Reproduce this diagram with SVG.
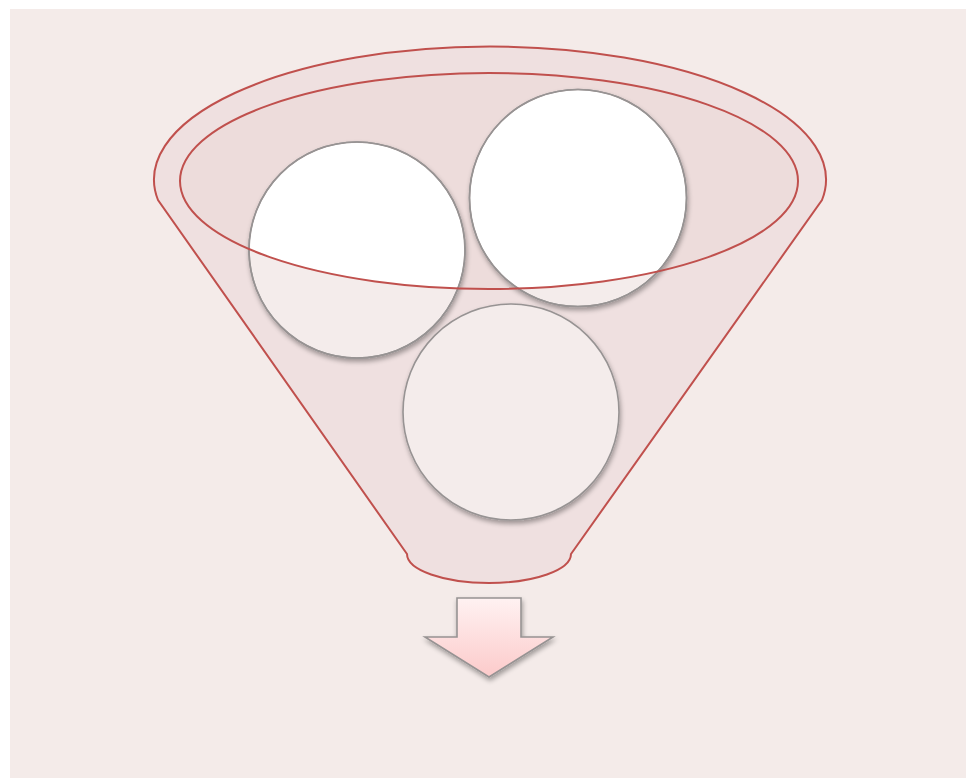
<svg xmlns="http://www.w3.org/2000/svg" width="966" height="778" viewBox="0 0 966 778">
<defs>
<style>
.fun{fill:#EFE0E0;stroke:#C0504D;stroke-width:2}
.inner{fill:#EDDCDB;stroke:none}
.rim{fill:none;stroke:#C0504D;stroke-width:2}
.c{fill:#F4ECEB;stroke:#979393;stroke-width:1.6;filter:url(#sh)}
.cw{fill:#FFFFFF;stroke:none}
.ring{fill:none;stroke:#979393;stroke-width:1.6}
</style>
<filter id="sh" x="-20%" y="-20%" width="140%" height="140%">
<feGaussianBlur in="SourceAlpha" stdDeviation="2.5"/>
<feOffset dx="1" dy="3" result="b"/>
<feComponentTransfer><feFuncA type="linear" slope="0.35"/></feComponentTransfer>
<feMerge><feMergeNode/><feMergeNode in="SourceGraphic"/></feMerge>
</filter>
<clipPath id="ell"><ellipse cx="489" cy="181" rx="309" ry="108"/></clipPath>
<linearGradient id="ag" x1="0" y1="0" x2="0" y2="1">
<stop offset="0" stop-color="#FFF2F2"/>
<stop offset="1" stop-color="#FCCACA"/>
</linearGradient>
</defs>
<rect x="0" y="0" width="966" height="778" fill="#FFFFFF"/>
<rect x="10" y="9" width="956" height="769" fill="#F4EBE9"/>
<g id="funnel">
<path class="fun" d="M158,200 A336,133 0 1 1 822,200 L571,554 A82,29 0 0 1 407,554 Z"/>
<ellipse class="inner" cx="489" cy="181" rx="309" ry="108"/>
</g>
<g id="circle1">
<circle class="c" cx="357" cy="250" r="108"/>
<circle class="cw" cx="357" cy="250" r="107" clip-path="url(#ell)"/>
<circle class="ring" cx="357" cy="250" r="108"/>
</g>
<g id="circle2">
<circle class="c" cx="578" cy="198" r="108.5"/>
<circle class="cw" cx="578" cy="198" r="107.5" clip-path="url(#ell)"/>
<circle class="ring" cx="578" cy="198" r="108.5"/>
</g>
<g id="circle3">
<circle class="c" cx="511" cy="412" r="108"/>
</g>
<g id="rim">
<ellipse class="rim" cx="489" cy="181" rx="309" ry="108"/>
</g>
<g id="arrow">
<path d="M457,598 L521,598 L521,637 L553,637 L489,677 L425,637 L457,637 Z" fill="url(#ag)" stroke="#979393" stroke-width="1.6" filter="url(#sh)"/>
</g>
<g id="connectors"/>
</svg>
